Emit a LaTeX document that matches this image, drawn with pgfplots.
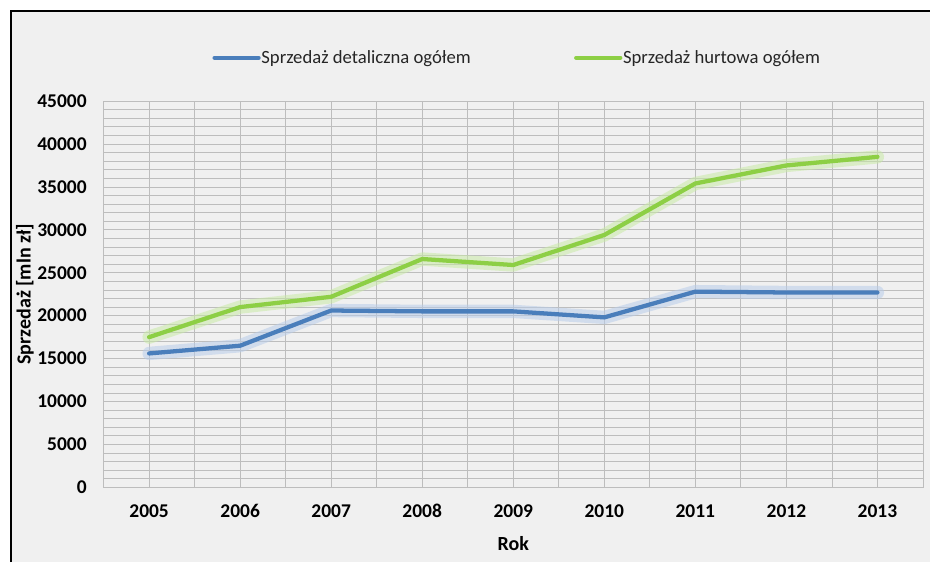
\documentclass[border=0pt]{standalone}
\usepackage{fontspec}
\setmainfont{Carlito}
\usepackage{pgfplots}
\pgfplotsset{compat=1.18}
\definecolor{bgc}{HTML}{F0F0F0}
\definecolor{gridc}{HTML}{BDBDBD}
\definecolor{blueL}{HTML}{4A7EBB}
\definecolor{greenL}{HTML}{8DCF45}
\definecolor{blueG}{HTML}{B9CDEA}
\definecolor{greenG}{HTML}{C9EAA6}
\begin{document}
\begin{tikzpicture}
\path[use as bounding box] (0pt,0pt) rectangle (697.5pt,421.5pt);
\fill[white] (0pt,0pt) rectangle (697.5pt,421.5pt);
\fill[bgc] (7.9pt,0pt) rectangle (697.5pt,413.6pt);
\draw[black, line width=1.5pt] (7.9pt,0pt) -- (7.9pt,413.6pt) -- (697.5pt,413.6pt);
\begin{axis}[
  at={(77.7pt,56pt)}, anchor=south west,
  scale only axis, width=614.5pt, height=289.7pt,
  xmin=-0.5, xmax=8.5, ymin=0, ymax=45000,
  xtick={0,1,2,3,4,5,6,7,8},
  xticklabels={2005,2006,2007,2008,2009,2010,2011,2012,2013},
  minor x tick num=1,
  ytick distance=5000, minor y tick num=4,
  scaled y ticks=false,
  grid=both,
  major grid style={draw=gridc, line width=0.6pt},
  minor grid style={draw=gridc, line width=0.6pt},
  axis line style={draw=gridc, line width=0.6pt},
  major tick length=0pt, minor tick length=0pt,
  /pgf/number format/assume math mode=true,
  /pgf/number format/1000 sep={},
  tick label style={font=\bfseries\fontsize{14.6}{16}\selectfont, text=black},
  xticklabel style={anchor=center, yshift=-18pt},
  yticklabel style={anchor=east, inner sep=0pt, xshift=-12.5pt},
  xlabel={Rok}, ylabel={Sprzedaż [mln zł]},
  label style={font=\bfseries\fontsize{15}{16}\selectfont},
  x label style={at={(axis description cs:0.5,-0.145)}, anchor=center},
  y label style={at={(axis description cs:-0.096,0.5)}, anchor=center},
  legend columns=2,
  legend style={draw=none, fill=none, at={(axis description cs:0.504,1.112)}, anchor=center,
    font=\fontsize{14}{16}\selectfont, text=black!85,
    /tikz/every even column/.append style={column sep=77pt},
    nodes={inner sep=0.5pt}},
  legend image code/.code={\draw[#1, line width=3.2pt] (0pt,0pt) -- (33pt,0pt);},
  clip=false,
]
\addplot[blueG, line width=10pt, opacity=0.55, line join=round, line cap=round, forget plot]
 coordinates {(0,15600) (1,16500) (2,20600) (3,20500) (4,20500) (5,19800) (6,22800) (7,22700) (8,22700)};
\addplot[greenG, line width=10pt, opacity=0.55, line join=round, line cap=round, forget plot]
 coordinates {(0,17500) (1,21000) (2,22200) (3,26600) (4,25900) (5,29400) (6,35400) (7,37500) (8,38500)};
\addplot[blueL, line width=3.2pt, line join=round, line cap=round]
 coordinates {(0,15600) (1,16500) (2,20600) (3,20500) (4,20500) (5,19800) (6,22800) (7,22700) (8,22700)};
\addlegendentry{Sprzedaż detaliczna ogółem}
\addplot[greenL, line width=3.2pt, line join=round, line cap=round]
 coordinates {(0,17500) (1,21000) (2,22200) (3,26600) (4,25900) (5,29400) (6,35400) (7,37500) (8,38500)};
\addlegendentry{Sprzedaż hurtowa ogółem}
\end{axis}
\end{tikzpicture}
\end{document}
